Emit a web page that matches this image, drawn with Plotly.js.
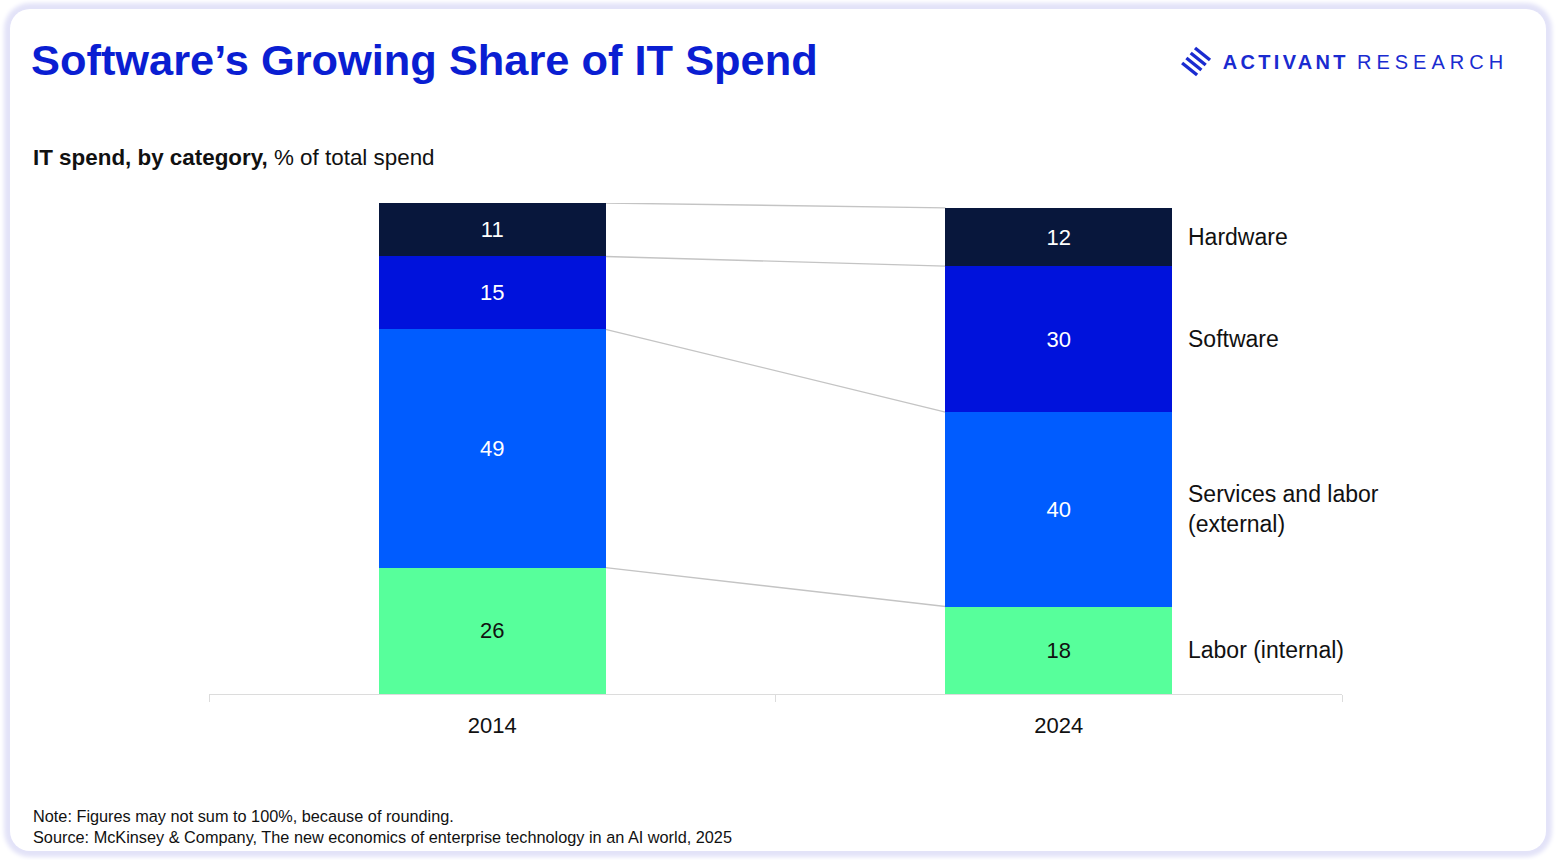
<!DOCTYPE html>
<html>
<head>
<meta charset="utf-8">
<script src="https://cdn.plot.ly/plotly-3.0.1.min.js"></script>
<style>
  html, body { margin: 0; padding: 0; background: #ffffff; width: 1556px; height: 860px; overflow: hidden; }
  #card {
    position: absolute; left: 10px; top: 9px; width: 1536px; height: 842px;
    background: #ffffff; border-radius: 20px;
    box-shadow: 0 0 4px 6px #e3e3f8;
  }
  #chart { position: absolute; left: 0; top: 0; width: 1556px; height: 860px; }
  g.annotation[data-index="1"] text { letter-spacing: 3.3px; }
  g.annotation[data-index="2"] text { letter-spacing: 5px; }
</style>
</head>
<body>
<div id="card"></div>
<div id="chart"></div>
<script>
// ---- data ----
const years = ['2014', '2024'];
const seriesNames = ['Labor (internal)', 'Services and labor<br>(external)', 'Software', 'Hardware'];
const labor = [26, 18];
const services = [49, 40];
const software = [15, 30];
const hardware = [11, 12];
const seriesColors = ['#57ff9b', '#005cff', '#0012dc', '#08173c'];
const textColors = ['#111111', '#ffffff', '#ffffff', '#ffffff'];

const seriesValues = [labor, services, software, hardware];

// ---- layout geometry ----
const W = 1556, H = 860;
const ml = 209, mr = 214, mt = 203, mb = 166;
const plotW = W - ml - mr, plotH = H - mt - mb;
const px = x => (x - ml) / plotW;
const py = y => (H - mb - y) / plotH;
const barWidth = 0.4;
const FONT = 'Liberation Sans, Arial, sans-serif';

const traces = seriesValues.map((vals, i) => ({
  type: 'bar',
  x: years,
  y: vals,
  name: seriesNames[i],
  width: barWidth,
  marker: { color: seriesColors[i], line: { width: 0 } },
  text: vals.map(String),
  textposition: 'inside',
  insidetextanchor: 'middle',
  textangle: 0,
  constraintext: 'none',
  textfont: { family: FONT, size: 22, color: textColors[i] },
  hoverinfo: 'skip'
}));

// cumulative tops
const cum = years.map((_, j) => {
  let s = 0;
  return seriesValues.map(v => (s += v[j]));
});

const shapes = [];
// connectors between stacked segment tops
seriesValues.forEach((_, i) => {
  shapes.push({
    type: 'line', xref: 'x', yref: 'y',
    x0: 0 + barWidth / 2, x1: 1 - barWidth / 2,
    y0: cum[0][i], y1: cum[1][i],
    line: { color: '#c4c4c4', width: 1.3 },
    layer: 'below'
  });
});
// logo stripes (decorative mark)
for (let k = 0; k < 4; k++) {
  const cx = 1202.5 - 4.3 * k, cy = 54 + 5.0 * k;
  shapes.push({
    type: 'line', xref: 'paper', yref: 'paper',
    x0: px(cx - 7.5), y0: py(cy - 6), x1: px(cx + 7.5), y1: py(cy + 6),
    line: { color: '#1a2bd0', width: 3.4 }
  });
}

const annotations = [];
annotations.push({
  xref: 'paper', yref: 'paper', x: px(31), y: py(157), xanchor: 'left', yanchor: 'middle',
  text: '<b>IT spend, by category,</b> % of total spend', showarrow: false,
  font: { family: FONT, size: 22.4, color: '#111111' }
});
annotations.push({
  xref: 'paper', yref: 'paper', x: px(1286), y: py(62), xanchor: 'center', yanchor: 'middle',
  text: '<b>ACTIVANT</b>', showarrow: false,
  font: { family: FONT, size: 20, color: '#1a2bd0' }
});
annotations.push({
  xref: 'paper', yref: 'paper', x: px(1432), y: py(62), xanchor: 'center', yanchor: 'middle',
  text: 'RESEARCH', showarrow: false,
  font: { family: FONT, size: 20, color: '#1a2bd0' }
});
// right-side series labels at the middle of each 2024 segment
seriesNames.forEach((nm, i) => {
  const top = cum[1][i], bot = top - seriesValues[i][1];
  annotations.push({
    xref: 'x', yref: 'y', x: 1 + barWidth / 2, y: (top + bot) / 2,
    xanchor: 'left', yanchor: 'middle', xshift: 14, align: 'left',
    text: nm, showarrow: false,
    font: { family: FONT, size: 23, color: '#111111' }
  });
});
annotations.push({
  xref: 'paper', yref: 'paper', x: px(31), y: py(826), xanchor: 'left', yanchor: 'middle', align: 'left',
  text: 'Note: Figures may not sum to 100%, because of rounding.<br>Source: McKinsey &amp; Company, The new economics of enterprise technology in an AI world, 2025',
  showarrow: false,
  font: { family: FONT, size: 16.3, color: '#111111' }
});

const layout = {
  width: W, height: H,
  margin: { l: ml, r: mr, t: mt, b: mb, pad: 0 },
  paper_bgcolor: 'rgba(0,0,0,0)',
  plot_bgcolor: 'rgba(0,0,0,0)',
  barmode: 'stack',
  showlegend: false,
  title: {
    text: '<b>Software’s Growing Share of IT Spend</b>',
    xref: 'container', yref: 'container',
    x: 31 / W, xanchor: 'left', y: 1 - 60 / H, yanchor: 'middle',
    font: { family: FONT, size: 43.4, color: '#0a1ed2' }
  },
  xaxis: {
    type: 'category',
    range: [-0.5, 1.5],
    showline: true, linecolor: '#dcdcdc', linewidth: 1,
    ticks: 'outside', tickson: 'boundaries', ticklen: 7, tickcolor: '#dcdcdc', tickwidth: 1,
    showgrid: false, zeroline: false,
    tickfont: { family: FONT, size: 22, color: '#111111' },
    ticklabelstandoff: 12,
    fixedrange: true
  },
  yaxis: {
    range: [0, 101], visible: false, showgrid: false, zeroline: false, fixedrange: true
  },
  shapes: shapes,
  annotations: annotations
};

Plotly.newPlot('chart', traces, layout, { staticPlot: true, displayModeBar: false });
</script>
</body>
</html>
